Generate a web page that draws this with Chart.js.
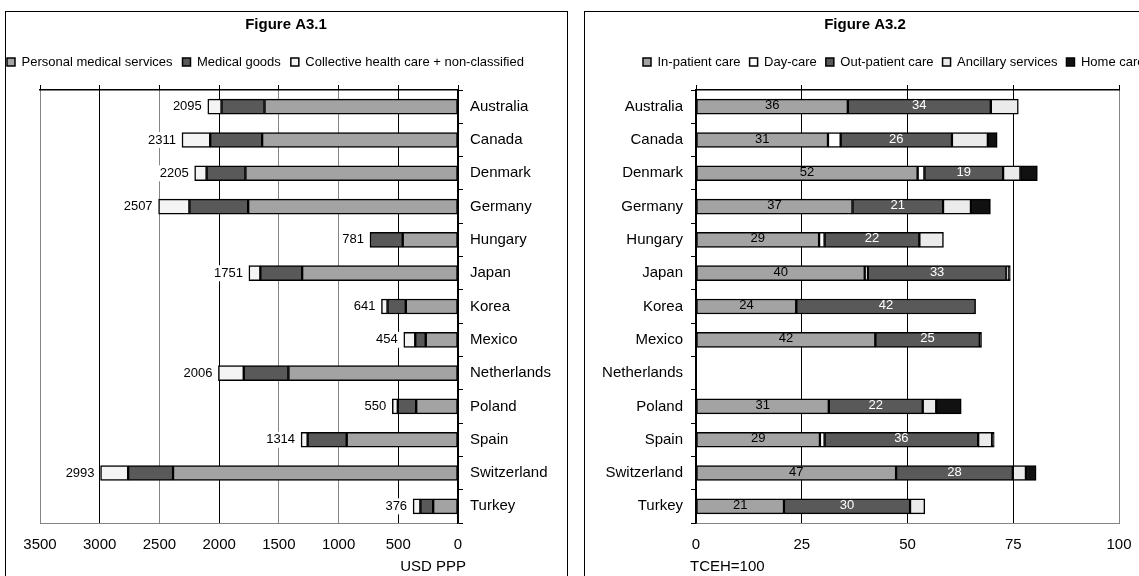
<!DOCTYPE html>
<html lang="en">
<head>
<meta charset="UTF-8">
<title>Figure A3.1 / Figure A3.2</title>
<script src="https://cdn.jsdelivr.net/npm/chart.js"></script>
<style>
    html, body {
        margin: 0;
        padding: 0;
        background: #fff;
        overflow: hidden;
    }
    body {
        position: relative;
        width: 1139px;
        height: 576px;
    }
    .panel {
        position: absolute;
        top: 11px;
        height: 620px;
        border: 1px solid #000;
        box-sizing: border-box;
    }
    #panelLeft { left: 5px; width: 563px; }
    #panelRight { left: 584px; width: 600px; }
    canvas {
        position: absolute;
        top: 12px;
    }
    #leftChart { left: 6px; }
    #rightChart { left: 585px; }
</style>
</head>
<body>
<div class="panel" id="panelLeft"></div>
<div class="panel" id="panelRight"></div>
<canvas id="leftChart" width="560" height="564"></canvas>
<canvas id="rightChart" width="560" height="564"></canvas>
<script>
    const countries = ["Australia", "Canada", "Denmark", "Germany", "Hungary", "Japan", "Korea",
        "Mexico", "Netherlands", "Poland", "Spain", "Switzerland", "Turkey"];

    // Figure A3.1 - USD PPP per capita
    const personalServices = [1620, 1640, 1780, 1757, 463, 1305, 437, 270, 1420, 350, 932, 2386, 208];
    const medicalGoods     = [360, 435, 325, 492, 274, 350, 153, 88, 374, 154, 327, 376, 107];
    const collectiveCare   = [115, 236, 100, 258, 0, 96, 51, 96, 212, 46, 55, 231, 61];
    const totalSpend       = [2095, 2311, 2205, 2507, 781, 1751, 641, 454, 2006, 550, 1314, 2993, 376];
    const usdTicks = [0, 500, 1000, 1500, 2000, 2500, 3000, 3500];

    // Figure A3.2 - share of TCEH (=100)
    const inPatient  = [35.9, 31.2, 52.4, 37.0, 29.1, 39.9, 23.7, 42.4, null, 31.4, 29.3, 47.3, 20.8];
    const dayCare    = [0, 3.0, 1.6, 0, 1.3, 0.7, 0, 0, null, 0, 1.1, 0, 0];
    const outPatient = [33.8, 26.3, 18.6, 21.4, 22.4, 32.8, 42.4, 24.7, null, 22.2, 36.3, 27.6, 29.8];
    const ancillary  = [6.5, 8.5, 4.1, 6.6, 5.7, 0.6, 0, 0, null, 3.2, 3.3, 3.1, 3.5];
    const homeCare   = [0, 2.2, 4.0, 4.6, 0, 0.3, 0, 0.4, null, 5.9, 0.5, 2.4, 0];
    const tcehTicks = [0, 25, 50, 75, 100];

    const FONT = 'Arial, "Liberation Sans", sans-serif';
    Chart.defaults.font.family = FONT;
    Chart.defaults.color = '#000';

    const GRAY = '#a3a3a3', DARK = '#595959', LIGHT = '#f4f4f4', PALE = '#ebebeb', BLACK = '#111';

    // value labels on the bars
    const barText = {
        id: 'barText',
        afterDatasetsDraw(chart, args, opts) {
            const ctx = chart.ctx;
            ctx.save();
            ctx.font = '13px ' + FONT;
            ctx.textBaseline = 'middle';
            if (opts.mode === 'total') {
                const last = chart.getDatasetMeta(chart.data.datasets.length - 1);
                last.data.forEach((bar, i) => {
                    const txt = String(opts.totals[i]);
                    const w = ctx.measureText(txt).width;
                    const right = bar.x - 6;
                    ctx.fillStyle = '#fff';
                    ctx.fillRect(right - w - 2, bar.y - 8, w + 4, 16);
                    ctx.fillStyle = '#000';
                    ctx.textAlign = 'right';
                    ctx.fillText(txt, right, bar.y);
                });
            } else {
                opts.sets.forEach((s) => {
                    const meta = chart.getDatasetMeta(s.index);
                    const values = chart.data.datasets[s.index].data;
                    meta.data.forEach((bar, i) => {
                        if (values[i] == null) return;
                        ctx.fillStyle = s.color;
                        ctx.textAlign = 'center';
                        ctx.fillText(String(Math.round(values[i])), (bar.x + bar.base) / 2, bar.y - 1);
                    });
                });
            }
            ctx.restore();
        }
    };

    // unit caption under the value axis
    const axisCaption = {
        id: 'axisCaption',
        afterDraw(chart, args, opts) {
            const ctx = chart.ctx;
            const area = chart.chartArea;
            ctx.save();
            ctx.font = '15px ' + FONT;
            ctx.fillStyle = '#000';
            ctx.textBaseline = 'middle';
            ctx.textAlign = opts.align;
            const x = opts.align === 'right' ? area.right + opts.dx : area.left + opts.dx;
            ctx.fillText(opts.text, x, area.bottom + opts.dy);
            ctx.restore();
        }
    };

    // legends in the original sit off-centre
    const legendShift = {
        id: 'legendShift',
        afterLayout(chart, args, opts) {
            if (chart.legend) {
                chart.legend.left += opts.dx;
                chart.legend.right += opts.dx;
            }
        }
    };

    function barSet(label, data, color) {
        return {
            label: label,
            data: data,
            backgroundColor: color,
            borderColor: '#000',
            borderWidth: 1.5,
            borderSkipped: false,
            barThickness: 15,
            xAxisID: 'x',
            yAxisID: 'y'
        };
    }

    function padAxis(position, size) {
        return {
            type: 'linear',
            position: position,
            display: true,
            grid: { display: false },
            ticks: { display: false },
            border: { display: false },
            afterFit: (s) => { s.width = size; }
        };
    }

    // ---- Figure A3.1 ----
    const leftGridColor = (c) => {
        const v = c.tick ? c.tick.value : 0;
        return [3000, 2000, 500, 0].includes(v) ? '#000' : '#858585';
    };

    new Chart(document.getElementById('leftChart'), {
        type: 'bar',
        data: {
            labels: countries,
            datasets: [
                barSet('Personal medical services', personalServices, GRAY),
                barSet('Medical goods', medicalGoods, DARK),
                barSet('Collective health care + non-classified', collectiveCare, LIGHT)
            ]
        },
        options: {
            indexAxis: 'y',
            responsive: false,
            animation: false,
            devicePixelRatio: 1,
            layout: { padding: 0 },
            scales: {
                x: {
                    type: 'linear',
                    position: 'bottom',
                    stacked: true,
                    reverse: true,
                    min: usdTicks[0],
                    max: usdTicks[usdTicks.length - 1],
                    ticks: {
                        stepSize: usdTicks[1] - usdTicks[0],
                        font: { size: 15 },
                        padding: 13,
                        maxRotation: 0,
                        callback: (v) => String(v)
                    },
                    grid: { color: leftGridColor, drawTicks: false },
                    border: { color: '#858585', width: 1 },
                    afterFit: (s) => { s.height = 53; }
                },
                xTop: {
                    type: 'linear',
                    position: 'top',
                    reverse: true,
                    min: usdTicks[0],
                    max: usdTicks[usdTicks.length - 1],
                    ticks: { display: false, stepSize: usdTicks[1] - usdTicks[0] },
                    grid: { drawOnChartArea: false, tickLength: 5, color: '#000' },
                    border: { color: '#000', width: 1.5 },
                    afterFit: (s) => { s.height = 11.5; }
                },
                y: {
                    type: 'category',
                    position: 'right',
                    stacked: true,
                    ticks: { font: { size: 15 }, padding: 7 },
                    grid: { drawOnChartArea: false, tickLength: 5, color: '#000' },
                    border: { color: '#000', width: 1.5 },
                    afterFit: (s) => { s.width = 108; }
                },
                padL: padAxis('left', 34)
            },
            plugins: {
                title: {
                    display: true,
                    text: 'Figure A3.1',
                    font: { size: 15, weight: 'bold' },
                    color: '#000',
                    padding: { top: 4, bottom: 11.5 }
                },
                legend: {
                    align: 'start',
                    labels: { boxWidth: 8, boxHeight: 8, padding: 10, font: { size: 13 }, color: '#000' }
                },
                tooltip: { enabled: false },
                barText: { mode: 'total', totals: totalSpend },
                axisCaption: { text: 'USD PPP', align: 'right', dx: 8, dy: 44 },
                legendShift: { dx: -9 }
            }
        },
        plugins: [barText, axisCaption, legendShift]
    });

    // ---- Figure A3.2 ----
    new Chart(document.getElementById('rightChart'), {
        type: 'bar',
        data: {
            labels: countries,
            datasets: [
                barSet('In-patient care', inPatient, GRAY),
                barSet('Day-care', dayCare, '#fff'),
                barSet('Out-patient care', outPatient, DARK),
                barSet('Ancillary services', ancillary, PALE),
                barSet('Home care', homeCare, BLACK)
            ]
        },
        options: {
            indexAxis: 'y',
            responsive: false,
            animation: false,
            devicePixelRatio: 1,
            layout: { padding: 0 },
            scales: {
                x: {
                    type: 'linear',
                    position: 'bottom',
                    stacked: true,
                    min: tcehTicks[0],
                    max: tcehTicks[tcehTicks.length - 1],
                    ticks: {
                        stepSize: tcehTicks[1] - tcehTicks[0],
                        font: { size: 15 },
                        padding: 13,
                        maxRotation: 0,
                        callback: (v) => String(v)
                    },
                    grid: {
                        color: (c) => (c.tick && c.tick.value === 100 ? '#858585' : '#000'),
                        drawTicks: false
                    },
                    border: { color: '#858585', width: 1 },
                    afterFit: (s) => { s.height = 53; }
                },
                xTop: {
                    type: 'linear',
                    position: 'top',
                    min: tcehTicks[0],
                    max: tcehTicks[tcehTicks.length - 1],
                    ticks: { display: false, stepSize: tcehTicks[1] - tcehTicks[0] },
                    grid: { drawOnChartArea: false, tickLength: 5, color: '#000' },
                    border: { color: '#000', width: 1.5 },
                    afterFit: (s) => { s.height = 11.5; }
                },
                y: {
                    type: 'category',
                    position: 'left',
                    stacked: true,
                    ticks: { font: { size: 15 }, padding: 8 },
                    grid: { drawOnChartArea: false, tickLength: 5, color: '#000' },
                    border: { color: '#000', width: 1.5 },
                    afterFit: (s) => { s.width = 111; }
                },
                padR: padAxis('right', 26)
            },
            plugins: {
                title: {
                    display: true,
                    text: 'Figure A3.2',
                    font: { size: 15, weight: 'bold' },
                    color: '#000',
                    padding: { top: 4, bottom: 12.5 }
                },
                legend: {
                    align: 'start',
                    labels: { boxWidth: 8, boxHeight: 8, padding: 9, font: { size: 13 }, color: '#000' }
                },
                tooltip: { enabled: false },
                barText: { mode: 'inside', sets: [{ index: 0, color: '#000' }, { index: 2, color: '#fff' }] },
                axisCaption: { text: 'TCEH=100', align: 'left', dx: -6, dy: 44 },
                legendShift: { dx: 49 }
            }
        },
        plugins: [barText, axisCaption, legendShift]
    });
</script>
</body>
</html>
